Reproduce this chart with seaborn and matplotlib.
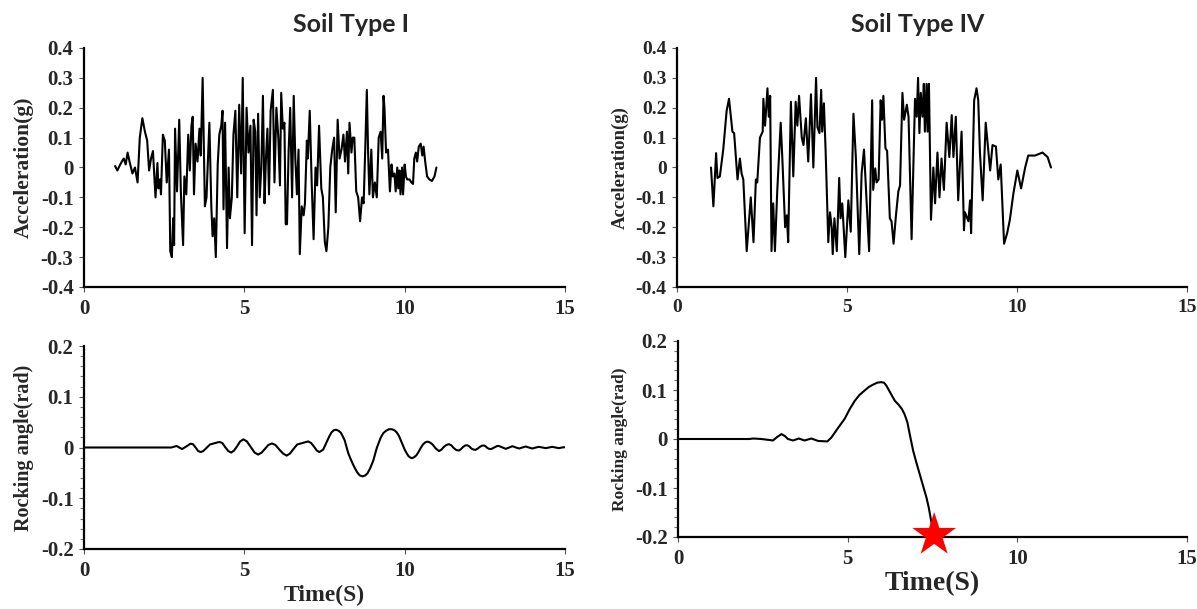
import matplotlib
matplotlib.use("Agg")
import matplotlib.pyplot as plt
import seaborn as sns
import pandas as pd
from matplotlib.ticker import MultipleLocator

# ---------------- data ----------------
acc1_t = [0.97, 1.04, 1.13, 1.18, 1.24, 1.30, 1.36, 1.42, 1.51, 1.59, 1.67, 1.74, 1.82, 1.90, 1.97,
          2.03, 2.09, 2.15, 2.23, 2.29, 2.32, 2.37, 2.40, 2.46, 2.52, 2.58, 2.65, 2.69, 2.74, 2.78,
          2.81, 2.84, 2.90, 2.97, 3.02, 3.09, 3.13, 3.19, 3.25, 3.30, 3.35, 3.39, 3.43, 3.48, 3.54,
          3.60, 3.64, 3.70, 3.77, 3.82, 3.91, 3.97, 4.01, 4.06, 4.11, 4.17, 4.22, 4.28, 4.32, 4.35,
          4.40, 4.46, 4.51, 4.55, 4.61, 4.66, 4.72, 4.78, 4.84, 4.90, 4.95, 5.01, 5.07, 5.13, 5.19,
          5.24, 5.29, 5.34, 5.38, 5.43, 5.48, 5.53, 5.58, 5.63, 5.67, 5.72, 5.77, 5.82, 5.89, 5.94,
          6.00, 6.06, 6.11, 6.15, 6.20, 6.25, 6.29, 6.33, 6.38, 6.43, 6.49, 6.54, 6.59, 6.64, 6.69,
          6.73, 6.79, 6.85, 6.89, 6.95, 6.98, 7.04, 7.10, 7.16, 7.22, 7.27, 7.33, 7.40, 7.45, 7.51,
          7.56, 7.62, 7.68, 7.74, 7.80, 7.85, 7.91, 7.97, 8.03, 8.09, 8.14, 8.20, 8.24, 8.28, 8.34,
          8.38, 8.43, 8.49, 8.55, 8.61, 8.67, 8.72, 8.77, 8.82, 8.86, 8.90, 8.96, 9.01, 9.07, 9.13,
          9.19, 9.25, 9.30, 9.34, 9.37, 9.42, 9.48, 9.54, 9.59, 9.63, 9.68, 9.72, 9.77, 9.80, 9.84,
          9.87, 9.92, 9.95, 10.00, 10.04, 10.08, 10.15, 10.21, 10.26, 10.30, 10.35, 10.39, 10.44,
          10.50, 10.55, 10.59, 10.64, 10.70, 10.77, 10.85, 10.93, 10.99]
acc1_v = [0.005, -0.01, 0.01, 0.02, 0.03, 0.01, 0.05, 0.02, -0.02, 0.0, -0.05, 0.10, 0.165, 0.12, 0.09,
          -0.01, 0.03, 0.055, -0.10, 0.015, -0.07, -0.04, -0.09, 0.11, 0.09, -0.05, 0.06, -0.28, -0.30, -0.17,
          -0.26, 0.13, -0.08, 0.16, -0.08, -0.26, -0.03, -0.09, 0.11, -0.01, 0.14, 0.17, -0.09, 0.08, 0.02,
          0.13, 0.04, 0.30, -0.13, -0.10, 0.15, -0.13, -0.23, -0.17, -0.30, 0.01, 0.11, 0.14, 0.19, -0.14,
          0.15, -0.27, 0.0, -0.17, -0.10, 0.11, 0.19, -0.10, 0.21, -0.02, 0.30, -0.22, 0.20, 0.05, 0.14,
          -0.26, 0.16, 0.12, -0.16, 0.18, -0.10, 0.0, 0.24, -0.12, 0.02, 0.13, -0.09, 0.19, 0.26, -0.05,
          0.20, 0.10, -0.06, 0.25, 0.13, 0.15, -0.19, -0.19, 0.05, 0.20, -0.10, 0.24, 0.03, -0.09, 0.06,
          -0.29, -0.13, -0.16, -0.12, 0.09, 0.03, 0.19, -0.05, -0.24, 0.0, -0.06, 0.14, -0.07, -0.10, -0.25,
          -0.28, -0.20, 0.0, 0.06, 0.10, -0.15, 0.16, 0.03, 0.06, 0.11, 0.02, 0.12, -0.02, 0.15, 0.05,
          0.10, 0.10, -0.08, -0.10, -0.18, -0.10, -0.12, 0.06, 0.26, 0.05, -0.09, 0.06, -0.10, -0.05, -0.10,
          0.10, 0.12, 0.03, 0.24, 0.20, 0.05, 0.06, -0.08, 0.01, -0.03, -0.02, -0.08, 0.0, -0.07, -0.01,
          -0.09, 0.0, -0.09, 0.01, -0.03, -0.04, -0.04, -0.05, -0.055, 0.03, 0.05, 0.02, 0.07,
          0.08, 0.04, 0.07, 0.02, -0.03, -0.04, -0.045, -0.03, 0.0]

acc4_t = [1.00, 1.07, 1.15, 1.19, 1.26, 1.36, 1.46, 1.53, 1.63, 1.68, 1.78, 1.85, 1.90, 1.95, 2.05,
          2.17, 2.25, 2.32, 2.36, 2.44, 2.52, 2.54, 2.59, 2.66, 2.70, 2.74, 2.78, 2.83, 2.88, 2.95,
          3.05, 3.10, 3.18, 3.23, 3.27, 3.35, 3.42, 3.49, 3.54, 3.59, 3.67, 3.72, 3.79, 3.86, 3.94,
          4.01, 4.09, 4.13, 4.19, 4.24, 4.27, 4.32, 4.37, 4.45, 4.50, 4.55, 4.58, 4.63, 4.70, 4.77,
          4.81, 4.86, 4.95, 5.04, 5.11, 5.19, 5.26, 5.36, 5.43, 5.50, 5.58, 5.65, 5.74, 5.77, 5.83,
          5.87, 5.93, 5.99, 6.03, 6.07, 6.13, 6.18, 6.26, 6.31, 6.37, 6.44, 6.51, 6.56, 6.63, 6.68,
          6.76, 6.81, 6.90, 7.00, 7.05, 7.09, 7.13, 7.17, 7.22, 7.26, 7.29, 7.34, 7.37, 7.41, 7.47,
          7.54, 7.59, 7.66, 7.72, 7.78, 7.85, 7.93, 8.01, 8.08, 8.13, 8.20, 8.27, 8.37, 8.44, 8.47,
          8.57, 8.62, 8.65, 8.74, 8.81, 8.86, 8.91, 8.99, 9.08, 9.21, 9.28, 9.38, 9.45, 9.52, 9.62,
          9.71, 9.79, 9.89, 10.01, 10.12, 10.24, 10.33, 10.53, 10.75, 10.90, 11.00]
acc4_v = [0.0, -0.13, 0.048, -0.035, -0.03, 0.06, 0.19, 0.23, 0.12, 0.115, -0.04, 0.03, -0.02, -0.04, -0.28,
          -0.10, -0.25, -0.04, -0.05, 0.10, 0.12, 0.23, 0.14, 0.265, 0.17, 0.24, -0.28, -0.12, -0.28, -0.075,
          0.15, 0.025, -0.20, -0.16, -0.25, 0.22, -0.03, 0.22, 0.14, 0.24, 0.10, 0.075, 0.165, 0.02, 0.245,
          0.0, 0.30, 0.135, 0.115, 0.26, 0.12, 0.215, 0.06, -0.25, -0.15, -0.20, -0.29, -0.17, -0.28, -0.035,
          -0.17, -0.12, -0.30, -0.11, -0.215, 0.18, 0.035, -0.29, -0.02, 0.06, -0.12, -0.28, 0.225, -0.075, -0.003,
          -0.05, -0.04, 0.225, 0.16, 0.24, 0.065, 0.055, -0.17, -0.18, -0.255, -0.16, -0.08, -0.06, 0.25, 0.16,
          0.21, 0.17, -0.24, 0.23, 0.17, 0.30, 0.115, 0.25, 0.17, 0.28, 0.12, 0.28, 0.12, 0.28, -0.175,
          0.0, -0.12, 0.05, -0.10, 0.03, -0.075, 0.15, 0.035, 0.175, 0.035, 0.17, -0.11, 0.12, -0.21, -0.15,
          -0.18, -0.11, -0.22, 0.225, 0.265, 0.225, 0.05, -0.11, 0.15, -0.01, 0.075, 0.07, -0.04, 0.01, -0.255,
          -0.22, -0.175, -0.09, -0.01, -0.07, 0.0, 0.04, 0.04, 0.05, 0.035, 0.0]

rock1_t = [0.0, 2.72, 2.80, 2.89, 2.97, 3.06, 3.19, 3.32, 3.40, 3.48, 3.56, 3.64, 3.72, 3.80, 3.93,
           4.05, 4.22, 4.31, 4.40, 4.50, 4.59, 4.68, 4.78, 4.87, 4.97, 5.08, 5.20, 5.32, 5.43, 5.54,
           5.64, 5.75, 5.86, 5.97, 6.09, 6.21, 6.32, 6.42, 6.52, 6.65, 6.82, 6.99, 7.08, 7.17, 7.26,
           7.34, 7.46, 7.57, 7.65, 7.72, 7.79, 7.86, 7.94, 8.01, 8.07, 8.13, 8.24, 8.31, 8.38, 8.45,
           8.52, 8.60, 8.69, 8.77, 8.84, 8.93, 9.02, 9.13, 9.25, 9.33, 9.42, 9.51, 9.60, 9.68, 9.75,
           9.82, 9.88, 9.94, 10.00, 10.06, 10.12, 10.18, 10.23, 10.30, 10.37, 10.44, 10.50, 10.57,
           10.64, 10.70, 10.75, 10.81, 10.87, 10.97, 11.07, 11.15, 11.22, 11.30, 11.38, 11.46, 11.53,
           11.61, 11.69, 11.76, 11.82, 11.89, 11.95, 12.02, 12.08, 12.15, 12.21, 12.28, 12.34, 12.41,
           12.47, 12.53, 12.58, 12.64, 12.70, 12.76, 12.82, 12.88, 12.94, 13.05, 13.15, 13.26, 13.36,
           13.47, 13.57, 13.67, 13.77, 13.88, 13.98, 14.09, 14.19, 14.30, 14.40, 14.50, 14.60, 14.71,
           14.81, 14.90, 15.0]
rock1_v = [0.0, 0.0, 0.0015, 0.003, 0.0, -0.003, 0.002, 0.0075, 0.0065, 0.0, -0.007, -0.009, -0.007, -0.002, 0.006,
           0.008, 0.011, 0.009, 0.001, -0.007, -0.010, -0.006, 0.003, 0.012, 0.016, 0.012, 0.001, -0.010, -0.014, -0.010,
           -0.003, 0.005, 0.008, 0.005, -0.004, -0.012, -0.016, -0.012, -0.004, 0.006, 0.009, 0.012, 0.009, 0.002, -0.006,
           -0.009, -0.004, 0.011, 0.022, 0.030, 0.034, 0.035, 0.033, 0.029, 0.022, 0.014, -0.011, -0.022, -0.032, -0.041,
           -0.049, -0.055, -0.057, -0.055, -0.051, -0.040, -0.026, -0.001, 0.019, 0.028, 0.033, 0.036, 0.036, 0.034, 0.030,
           0.023, 0.014, 0.005, -0.004, -0.011, -0.017, -0.020, -0.021, -0.019, -0.015, -0.008, -0.001, 0.006,
           0.010, 0.0115, 0.011, 0.009, 0.006, -0.002, -0.007, -0.004, 0.001, 0.005, 0.0066, 0.004, -0.001,
           -0.005, -0.006, -0.003, 0.001, 0.004, 0.0046, 0.002, -0.002, -0.0042, -0.0046, -0.002, 0.001, 0.0035,
           0.004, 0.002, -0.001, -0.0028, -0.003, -0.001, 0.001, 0.0028, 0.003, 0.0, -0.0026, 0.0, 0.0026,
           0.0, -0.002, 0.0, 0.002, 0.0, -0.002, 0.0, 0.0013, 0.0, -0.0013, 0.0, 0.0013, 0.0,
           -0.0013, 0.0, 0.0006]

rock4_t = [0.0, 2.11, 2.21, 2.46, 2.80, 2.92, 3.05, 3.15, 3.24, 3.39, 3.56, 3.73, 3.93, 4.13, 4.40,
           4.52, 4.71, 4.91, 5.06, 5.21, 5.35, 5.50, 5.62, 5.75, 5.87, 5.99, 6.07, 6.14, 6.26, 6.39,
           6.50, 6.60, 6.68, 6.76, 6.84, 6.93, 7.02, 7.12, 7.22, 7.32, 7.39, 7.45, 7.50, 7.55]
rock4_v = [0.0, 0.0, 0.001, 0.0, -0.003, 0.004, 0.010, 0.006, 0.0, -0.003, 0.001, -0.003, 0.001, -0.004, -0.005,
           0.003, 0.022, 0.041, 0.061, 0.078, 0.090, 0.099, 0.106, 0.111, 0.115, 0.116, 0.115, 0.109, 0.094, 0.078,
           0.070, 0.061, 0.050, 0.034, 0.006, -0.024, -0.047, -0.071, -0.095, -0.119, -0.140, -0.163, -0.182, -0.196]

fail_t = [7.55]
fail_v = [-0.196]

titles = ["Soil Type I", "Soil Type IV"]
acc_label = "Acceleration(g)"
rock_label = "Rocking angle(rad)"
time_label = "Time(S)"

# ---------------- style ----------------
sns.set_theme(style="ticks")
plt.rcParams["font.family"] = ["Liberation Serif", "DejaVu Serif"]
plt.rcParams["font.weight"] = "bold"

fig = plt.figure(figsize=(11.97, 6.09), dpi=100)
W, H = 1197, 609

def add_axes(l, r, t, b):
    return fig.add_axes([l / W, 1 - b / H, (r - l) / W, (b - t) / H])

ax_tl = add_axes(84, 565, 48, 287)
ax_tr = add_axes(677, 1187, 48, 287)
ax_bl = add_axes(84, 565, 346, 549)
ax_br = add_axes(678, 1187, 341, 537)

line_kw = dict(color="black", linewidth=1.5, sort=False, estimator=None)

sns.lineplot(data=pd.DataFrame({"t": acc1_t, "v": acc1_v}), x="t", y="v", ax=ax_tl, **line_kw)
sns.lineplot(data=pd.DataFrame({"t": acc4_t, "v": acc4_v}), x="t", y="v", ax=ax_tr, **line_kw)
sns.lineplot(data=pd.DataFrame({"t": rock1_t, "v": rock1_v}), x="t", y="v", ax=ax_bl, **line_kw)
sns.lineplot(data=pd.DataFrame({"t": rock4_t, "v": rock4_v}), x="t", y="v", ax=ax_br, **line_kw)
sns.scatterplot(x=fail_t, y=fail_v, ax=ax_br, marker="*", s=1100, color="#ff0000",
                edgecolor="none", zorder=6, clip_on=False)

for ax, lsize in ((ax_tl, 15), (ax_tr, 14), (ax_bl, 15), (ax_br, 15)):
    ax.set_xlim(0, 15)
    for s in ("top", "right"):
        ax.spines[s].set_visible(False)
    for s in ("left", "bottom"):
        ax.spines[s].set_linewidth(1.6)
        ax.spines[s].set_color("black")
    ax.tick_params(axis="both", which="major", direction="out", length=3.5, width=0.8,
                   color="#555555", pad=4, labelsize=lsize)
    ax.tick_params(axis="x", pad=5)
    ax.grid(False)
    ax.set_facecolor("white")

for ax in (ax_tl, ax_tr):
    ax.set_ylim(-0.4, 0.4)
    ax.set_yticks([-0.4, -0.3, -0.2, -0.1, 0, 0.1, 0.2, 0.3, 0.4])
    ax.set_yticklabels(["-0.4", "-0.3", "-0.2", "-0.1", "0", "0.1", "0.2", "0.3", "0.4"])

for ax in (ax_bl, ax_br):
    ax.set_ylim(-0.2, 0.2)
    ax.set_yticks([-0.2, -0.1, 0, 0.1, 0.2])
    ax.set_yticklabels(["-0.2", "-0.1", "0", "0.1", "0.2"])
    ax.yaxis.set_minor_locator(MultipleLocator(0.02))
    ax.tick_params(axis="y", which="minor", direction="out", length=3, width=0.8, color="#777777")

for ax in (ax_tl, ax_tr, ax_bl, ax_br):
    ax.set_xticks([0, 5, 10, 15])
    ax.set_xticklabels(["0", "5", "10", "15"])
    for lab in ax.get_xticklabels() + ax.get_yticklabels():
        lab.set_fontweight("bold")
        lab.set_fontfamily("Liberation Serif")

title_font = dict(fontsize=18, fontweight="bold", fontfamily=["Lato", "DejaVu Sans"],
                  ha="center", va="center")
fig.text(351 / W, 1 - 24 / H, titles[0], **title_font)
fig.text(918 / W, 1 - 24 / H, titles[1], **title_font)

ax_tl.set_ylabel(acc_label, fontsize=15.5, fontweight="bold", labelpad=5)
ax_tr.set_ylabel(acc_label, fontsize=13.5, fontweight="bold", labelpad=5)
ax_bl.set_ylabel(rock_label, fontsize=14.5, fontweight="bold", labelpad=5)
ax_br.set_ylabel(rock_label, fontsize=12.5, fontweight="bold", labelpad=5)

ax_tl.set_xlabel("")
ax_tr.set_xlabel("")
ax_bl.set_xlabel(time_label, fontsize=17, fontweight="bold", labelpad=3)
ax_br.set_xlabel(time_label, fontsize=20, fontweight="bold", labelpad=2)

fig.savefig("out.png", dpi=100, facecolor="white")
